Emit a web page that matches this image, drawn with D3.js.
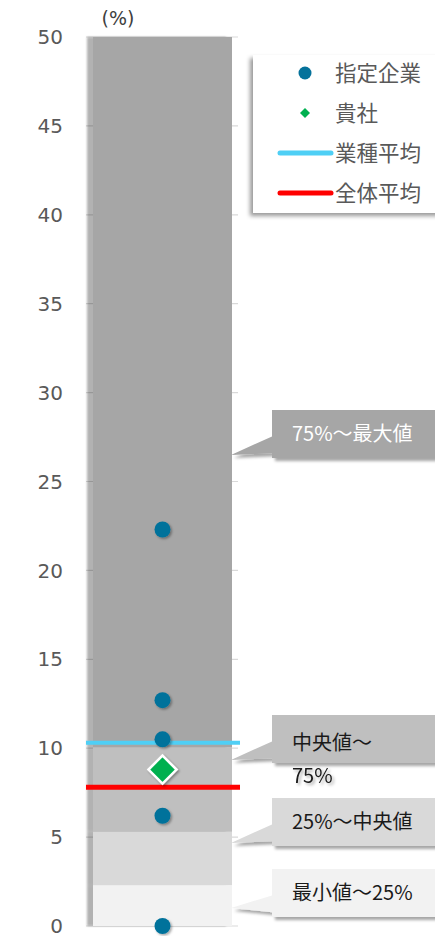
<!DOCTYPE html>
<html>
<head>
<meta charset="utf-8">
<script src="https://cdn.jsdelivr.net/npm/d3@7"></script>
<style>
  html, body { margin: 0; padding: 0; background: #fff; }
  svg { display: block; font-family: "Noto Sans CJK JP", "Noto Sans", sans-serif; }
</style>
</head>
<body>
<svg id="chart" width="435" height="936"></svg>
<script>
// Distribution bands (boundaries: min, 25%, median, 75%, max)
const bandNames = ["最小値～25%", "25%～中央値", "中央値～75%", "75%～最大値"];
const bandBounds = [0, 2.3, 5.3, 10.05, 50];
const bandColors = ["#f2f2f2", "#d9d9d9", "#bfbfbf", "#a6a6a6"];
const bandTextColors = ["#1a1a1a", "#1a1a1a", "#1a1a1a", "#ffffff"];

// Selected companies, own company and averages (%)
const companyValues = [22.3, 12.7, 10.5, 6.2, 0];
const ownValue = 8.8;
const industryAvg = 10.3;
const overallAvg = 7.8;

const legendNames = ["指定企業", "貴社", "業種平均", "全体平均"];
const axisMin = 0, axisMax = 50, axisStep = 5;

const cjkFont = "'Noto Sans CJK JP', 'Noto Sans', sans-serif";
const numFont = "'DejaVu Sans', 'Noto Sans', sans-serif";

const svg = d3.select("#chart");
const defs = svg.append("defs");

function shadow(id, dx, dy, sd, op) {
  const f = defs.append("filter").attr("id", id)
    .attr("x", "-30%").attr("y", "-30%").attr("width", "160%").attr("height", "160%");
  f.append("feDropShadow").attr("dx", dx).attr("dy", dy)
    .attr("stdDeviation", sd).attr("flood-color", "#000").attr("flood-opacity", op);
}
shadow("barShadow", -6, 0, 1.2, 0.3);
shadow("dotShadow", 1.5, 1.5, 1, 0.35);
shadow("boxShadow", 3, 3, 1.8, 0.35);
shadow("legendShadow", -3, 3, 2, 0.4);
shadow("textShadow", 2, 2, 1.5, 0.35);

const y = d3.scaleLinear().domain([axisMin, axisMax]).range([926, 37]);
const x = d3.scaleBand().domain(["bar"]).range([93, 232]).padding(0);
const cx = x("bar") + x.bandwidth() / 2;

// Gridlines
const ticks = d3.range(axisMin, axisMax + axisStep / 2, axisStep);
svg.append("g").selectAll("line").data(ticks).join("line")
  .attr("x1", 86).attr("x2", 238)
  .attr("y1", d => y(d)).attr("y2", d => y(d))
  .attr("stroke", "#d9d9d9").attr("stroke-width", 1.2);

// Y axis labels
const yAxis = d3.axisLeft(y).tickValues(ticks).tickSize(0).tickPadding(0);
const gy = svg.append("g").attr("transform", "translate(63,0)").call(yAxis);
gy.select(".domain").remove();
gy.selectAll("text")
  .attr("dy", "0.33em")
  .style("font-family", numFont).style("font-size", "20px").style("fill", "#595959");

svg.append("text").attr("x", 118).attr("y", 25).attr("text-anchor", "middle")
  .style("font-family", numFont).style("font-size", "19px").style("fill", "#404040")
  .text("(%)");

// Stacked band bar
const bands = bandNames.map((n, i) => ({ name: n, lo: bandBounds[i], hi: bandBounds[i + 1], color: bandColors[i], tc: bandTextColors[i] }));
const barG = svg.append("g").attr("filter", "url(#barShadow)");
barG.selectAll("rect").data(bands).join("rect")
  .attr("x", x("bar")).attr("width", x.bandwidth())
  .attr("y", d => y(d.hi)).attr("height", d => y(d.lo) - y(d.hi))
  .attr("fill", d => d.color);

// Average lines
svg.append("line").attr("x1", 86).attr("x2", 240)
  .attr("y1", y(industryAvg)).attr("y2", y(industryAvg))
  .attr("stroke", "#4fcff5").attr("stroke-width", 4);
svg.append("line").attr("x1", 86).attr("x2", 240)
  .attr("y1", y(overallAvg)).attr("y2", y(overallAvg))
  .attr("stroke", "#ff0000").attr("stroke-width", 5);

// Company dots
svg.append("g").attr("filter", "url(#dotShadow)").selectAll("circle").data(companyValues).join("circle")
  .attr("cx", cx).attr("cy", d => y(d)).attr("r", 8)
  .attr("fill", "#05729b");

// Own company diamond
const dSize = 14;
svg.append("path")
  .attr("d", `M${cx},${y(ownValue) - dSize} L${cx + dSize},${y(ownValue)} L${cx},${y(ownValue) + dSize} L${cx - dSize},${y(ownValue)} Z`)
  .attr("fill", "#00b050").attr("stroke", "#fff").attr("stroke-width", 2.5)
  .attr("filter", "url(#dotShadow)");

// Callouts for each band
const callouts = [
  { band: 0, top: 869, tipY: 908 },
  { band: 1, top: 798, tipY: 843 },
  { band: 2, top: 715, tipY: 760 },
  { band: 3, top: 410, tipY: 455 }
];
const boxX = 272, boxW = 170, boxH = 48, tipX = 231;
const cg = svg.append("g");
callouts.forEach(c => {
  const b = bands[c.band];
  const t = c.top, bt = t + boxH;
  const p = `M${boxX},${t} H${boxX + boxW} V${bt} H${boxX} V${t + boxH * 0.9} L${tipX},${c.tipY} L${boxX},${t + boxH * 0.55} Z`;
  cg.append("path").attr("d", p).attr("fill", b.color).attr("filter", "url(#boxShadow)");
  if (c.band === 2) {
    const parts = ["中央値～", "75%"];
    cg.append("text").attr("x", 292).attr("y", t + 35)
      .style("font-family", cjkFont).style("font-size", "20px").style("fill", b.tc).text(parts[0]);
    cg.append("text").attr("x", 292).attr("y", t + 68).attr("filter", "url(#textShadow)")
      .style("font-family", cjkFont).style("font-size", "20px").style("fill", b.tc).text(parts[1]);
  } else {
    cg.append("text").attr("x", 292).attr("y", t + 31)
      .style("font-family", cjkFont).style("font-size", "20px").style("fill", b.tc).text(b.name);
  }
});

// Legend
const lg = svg.append("g");
lg.append("rect").attr("x", 253).attr("y", 55).attr("width", 190).attr("height", 158)
  .attr("fill", "#fff").attr("filter", "url(#legendShadow)");
const legendY = [73, 113, 153, 193];
lg.append("circle").attr("cx", 305).attr("cy", legendY[0]).attr("r", 6.5).attr("fill", "#05729b");
lg.append("path").attr("d", `M305,${legendY[1] - 5} L310,${legendY[1]} L305,${legendY[1] + 5} L300,${legendY[1]} Z`).attr("fill", "#00b050");
lg.append("line").attr("x1", 280).attr("x2", 331).attr("y1", legendY[2]).attr("y2", legendY[2])
  .attr("stroke", "#4fcff5").attr("stroke-width", 5).attr("stroke-linecap", "round");
lg.append("line").attr("x1", 280).attr("x2", 331).attr("y1", legendY[3]).attr("y2", legendY[3])
  .attr("stroke", "#ff0000").attr("stroke-width", 5).attr("stroke-linecap", "round");
lg.selectAll("text.lt").data(legendNames).join("text").attr("class", "lt")
  .attr("x", 335).attr("y", (d, i) => legendY[i] + 8)
  .style("font-family", cjkFont).style("font-size", "21.5px").style("fill", "#595959")
  .text(d => d);
</script>
</body>
</html>
